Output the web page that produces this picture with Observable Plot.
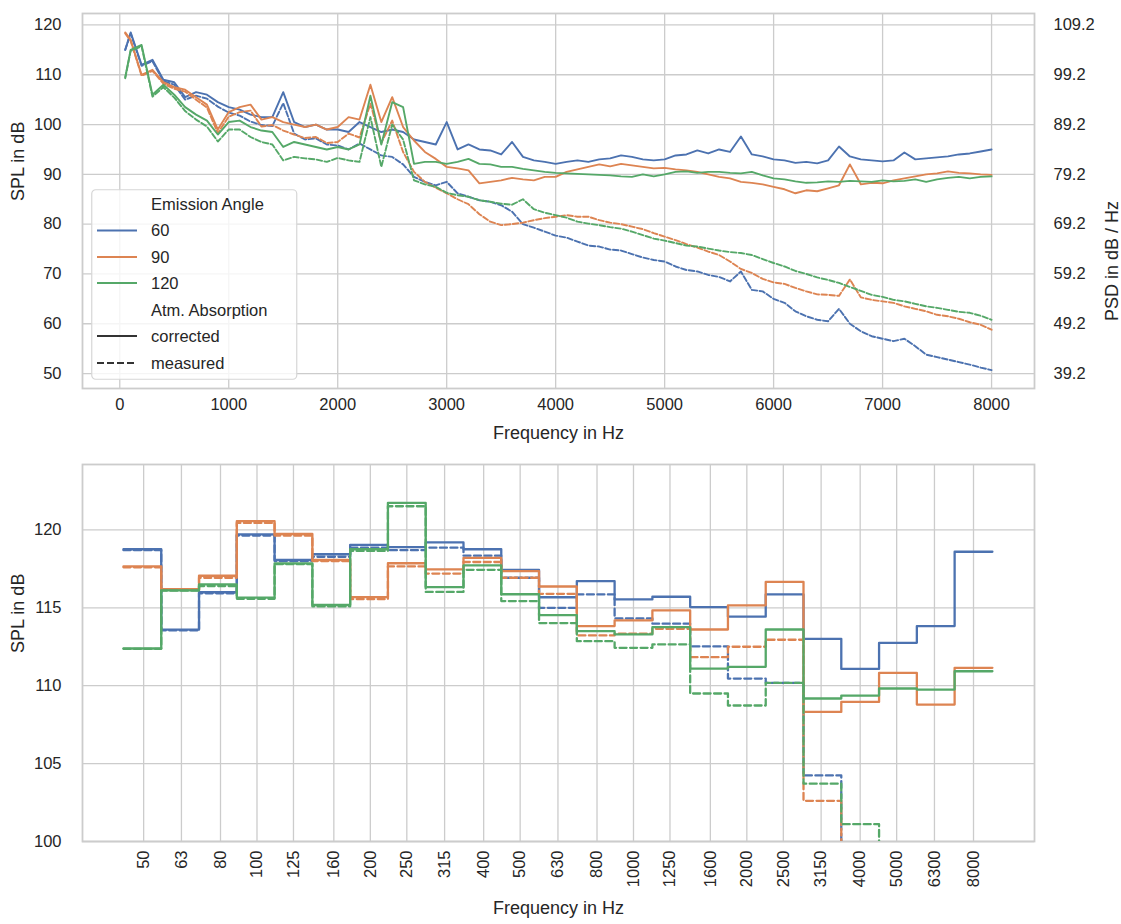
<!DOCTYPE html>
<html><head><meta charset="utf-8">
<script src="https://cdn.jsdelivr.net/npm/d3@7"></script>
<script src="https://cdn.jsdelivr.net/npm/@observablehq/plot@0.6"></script>
<style>
body{margin:0;background:#fff;font-family:"Liberation Sans",Arial,sans-serif;}
#wrap{position:relative;width:1121px;height:924px;overflow:hidden;}
#top,#bot,#legend{position:absolute;}
#top{left:0;top:0}
#bot{left:0;top:455px}
#legend{left:91px;top:189px}
</style></head>
<body><div id="wrap"><div id="top"></div><div id="bot"></div><div id="legend"></div></div>
<script>
// ---------- Top panel: narrow-band spectra ----------
const spectrumFreq = [50,
 100,200,300,400,500,600,700,800,900,1000,
 1100,1200,1300,1400,1500,1600,1700,1800,1900,2000,
 2100,2200,2300,2400,2500,2600,2700,2800,2900,3000,
 3100,3200,3300,3400,3500,3600,3700,3800,3900,4000,
 4100,4200,4300,4400,4500,4600,4700,4800,4900,5000,
 5100,5200,5300,5400,5500,5600,5700,5800,5900,6000,
 6100,6200,6300,6400,6500,6600,6700,6800,6900,7000,
 7100,7200,7300,7400,7500,7600,7700,7800,7900,8000];
const spl60corrected = [115,
 118.5,112,113,109,108.5,105.5,106.5,106,104.5,103.5,
 103,102,101.5,101.5,106.5,100.5,99.5,100,99,99,
 98.5,100.5,99.5,98.5,99,98.5,97,96.5,96,100.5,
 95,96,95,94.8,94,96.5,93.5,92.8,92.5,92.1,
 92.5,92.8,92.5,93,93.2,93.8,93.5,93,92.8,93,
 93.8,94,94.8,94.2,95,94.5,97.6,94,93.6,93,
 92.8,92.3,92.5,92.2,92.8,95.6,93.6,93,92.8,92.6,
 92.8,94.4,93,93.2,93.4,93.6,94,94.2,94.6,95];
const spl60measured = [115,
 118.3,111.8,112.7,108.7,108,105,105.8,105.2,103.6,102.4,
 101.8,100.6,99.9,99.7,104.3,98.2,97,97.2,96,95.8,
 95,96.2,95,93.8,93.5,92,89.5,88.5,87.8,88.5,
 86.2,85.5,84.8,84.5,83.8,82.5,80,79.3,78.5,77.7,
 77.3,76.5,75.7,75.5,74.9,74.7,74,73.3,72.8,72.5,
 71.5,70.8,70.5,69.8,69.4,68.5,70.5,66.8,66.5,65,
 64.2,62.5,61.5,60.8,60.5,63,60,58.5,57.5,57,
 56.5,57,55.5,53.8,53.3,52.8,52.3,51.8,51.2,50.7];
const spl90corrected = [118.5,
 117,110,111,108.5,107.5,107,105.5,104,99,102.5,
 103.5,104,101,101.5,100.5,100,99.5,100,99,99.5,
 101.5,101,108,100.5,105.5,99.5,96.8,94.5,93.1,91.5,
 91.2,90.8,88.2,88.5,88.8,89.3,89,88.8,89.5,89.5,
 90.5,91,91.5,92,91.6,92.1,91.8,91.5,91.2,91.3,
 91,90.8,90.5,90,89.5,89.2,88.5,88.3,88,87.5,
 87,86.2,86.8,86.6,87.2,87.8,92,88,88.3,88.2,
 88.8,89.2,89.6,90,90.2,90.6,90.3,90.2,90,89.9];
const spl90measured = [118.3,
 116.8,109.8,110.8,108.2,107.2,106.6,105,103.4,98.3,101.6,
 102.5,102.8,99.6,99.9,98.8,98,97.3,97.5,96.3,96.5,
 98.2,97.4,104.2,96.3,100.8,94.5,90.5,88.5,87.3,86.2,
 85,84,82,80.5,79.8,80,80.3,80.8,81.2,81.5,
 81.8,81.5,81.5,80.8,80.3,80,79.5,79,78.2,77.5,
 76.8,76,75.3,74.5,73.8,72.5,71,70.2,69,68.3,
 68,67.2,66.5,65.9,65.8,65.6,68.9,65.3,64.8,64.5,
 64.2,63.5,63,62.5,61.8,61.5,61,60.3,59.8,58.8];
const spl120corrected = [109.5,
 115,116,106,108,106,103.5,102,100.8,98,100.5,
 100.8,99.5,98.8,98.5,95.5,96.5,96,95.5,95,95.5,
 95,96,105.8,96,104.5,103.5,92.1,92.5,92.5,92.1,
 92.5,93.1,92.1,92,91.5,91.5,91.1,90.8,90.5,90.3,
 90.2,90.1,90,89.9,89.8,89.6,89.5,90,89.6,90,
 90.5,90.6,90.3,90.5,90.5,90.3,90.2,90.5,89.8,89.2,
 89,88.6,88.3,88.4,88.6,88.5,88.7,88.6,88.5,88.8,
 88.6,88.7,89,88.5,89,89.3,89.5,89.2,89.5,89.6];
const spl120measured = [109.3,
 114.8,115.7,105.6,107.5,105.4,102.7,101,99.6,96.6,99,
 99,97.5,96.5,96,92.8,93.5,93.2,93,92.5,93.3,
 92.8,92.5,101.5,91.5,100,97,88.8,88,87.5,86.3,
 85.8,85.5,84.8,84.5,84.1,83.9,85,83,82.3,81.8,
 81.3,80.5,80.1,79.8,79.4,79.1,78.5,77.8,77.1,76.7,
 76.2,75.7,75.5,75.1,74.7,74.4,74.2,73.8,73,72.2,
 71.5,70.6,70,69.3,68.8,68.2,67.4,66.6,65.8,65.4,
 64.8,64.5,64,63.5,63.2,62.8,62.4,62.2,61.6,60.8];
const topXTicks = [0,1000,2000,3000,4000,5000,6000,7000,8000];
const topYTicks = [50,60,70,80,90,100,110,120];
const psdOffset = 10.8; // PSD axis = SPL - 10.8

// ---------- Bottom panel: third-octave bands ----------
const bandLabels = ["50","63","80","100","125","160","200","250","315","400","500","630","800","1000","1250","1600","2000","2500","3150","4000","5000","6300","8000"];
const bandNominal = [50,63,80,100,125,160,200,250,315,400,500,630,800,1000,1250,1600,2000,2500,3150,4000,5000,6300,8000];
const band60corrected = [118.76,113.6,116.0,119.72,118.07,118.44,119.04,118.9,119.2,118.76,117.43,115.68,116.72,115.54,115.71,115.05,114.43,115.86,113.01,111.08,112.75,113.83,118.6];
const band60measured = [118.7,113.55,115.93,119.64,118.0,118.28,118.86,118.7,118.86,118.35,116.93,115.0,115.86,114.32,113.98,112.52,110.46,110.18,104.24,97.5,94,90,85];
const band90corrected = [117.66,116.2,117.06,120.56,119.74,118.07,115.69,117.86,117.47,118.2,117.36,116.37,113.83,114.19,114.83,113.61,115.16,116.66,108.32,108.96,110.82,108.79,111.15];
const band90measured = [117.6,116.15,116.93,120.45,119.64,118.0,115.56,117.66,117.2,117.94,116.93,115.9,113.23,113.34,113.65,111.83,112.5,112.95,102.61,97,93,89,83];
const band120corrected = [112.39,116.12,116.5,115.65,117.85,115.18,118.76,121.74,116.33,117.72,115.87,114.53,113.5,113.29,113.76,111.1,111.21,113.61,109.18,109.37,109.82,109.75,110.93];
const band120measured = [112.37,116.1,116.4,115.58,117.8,115.09,118.65,121.52,116.02,117.44,115.43,114.02,112.86,112.43,112.65,109.5,108.73,110.18,103.71,101.11,97,93,88];
const botYTicks = [100,105,110,115,120];

const colors = {"60":"#4c72b0","90":"#dd8452","120":"#55a868"};
const ink = "#262626", gridC = "#cccccc";
const font = "Liberation Sans, Arial, sans-serif";

const topSeries = [
  {a:"60", dash:false, v:spl60corrected},{a:"60", dash:true, v:spl60measured},
  {a:"90", dash:false, v:spl90corrected},{a:"90", dash:true, v:spl90measured},
  {a:"120", dash:false, v:spl120corrected},{a:"120", dash:true, v:spl120measured}
];
const topLines = topSeries.map(s => Plot.line(spectrumFreq.map((f,i)=>({f, v:s.v[i]})), {
  x:"f", y:"v", stroke: colors[s.a], strokeWidth:1.9,
  strokeDasharray: s.dash ? "5.5,2.4" : null, clip:true}));

const topPlot = Plot.plot({
  width:1121, height:455, marginLeft:82, marginRight:87, marginTop:13, marginBottom:67,
  style:{fontFamily:font, fontSize:"16.5px", color:ink, background:"transparent"},
  x:{domain:[-342,8394]},
  y:{domain:[47.0,122.3]},
  marks:[
    Plot.gridX(topXTicks, {stroke:gridC, strokeOpacity:1, strokeWidth:1.3}),
    Plot.gridY(topYTicks, {stroke:gridC, strokeOpacity:1, strokeWidth:1.3}),
    Plot.frame({stroke:gridC, strokeWidth:1.8}),
    ...topLines,
    Plot.axisX(topXTicks, {tickSize:0, tickPadding:10, label:null, tickFormat:d=>String(d)}),
    Plot.axisY(topYTicks, {anchor:"left", tickSize:0, tickPadding:21, label:null, tickFormat:d=>String(d)}),
    Plot.axisY(topYTicks, {anchor:"right", tickSize:0, tickPadding:19, label:null,
      tickFormat: d => (d - psdOffset).toFixed(1)}),
    Plot.text(["Frequency in Hz"], {frameAnchor:"bottom", dy:50, fontSize:18, fill:ink}),
    Plot.text(["SPL in dB"], {frameAnchor:"left", dx:-64, rotate:-90, fontSize:18, fill:ink}),
    Plot.text(["PSD in dB / Hz"], {frameAnchor:"right", dx:78, rotate:-90, fontSize:18, fill:ink})
  ]
});
document.getElementById("top").appendChild(topPlot);

// band edges (exact third-octave centres)
const centres = bandNominal.map((_,i) => 1000 * Math.pow(2, (i - 13) / 3));
const lo = centres.map(c => c * Math.pow(2, -1/6));
const hi = centres.map(c => c * Math.pow(2, 1/6));
function stairs(vals){
  const pts = vals.map((v,i)=>({x:lo[i], y:v}));
  pts.push({x:hi[hi.length-1], y:vals[vals.length-1]});
  return pts;
}
const botSeries = [
  {a:"60", dash:false, v:band60corrected},{a:"60", dash:true, v:band60measured},
  {a:"90", dash:false, v:band90corrected},{a:"90", dash:true, v:band90measured},
  {a:"120", dash:false, v:band120corrected},{a:"120", dash:true, v:band120measured}
];
const botLines = botSeries.map(s => Plot.line(stairs(s.v), {
  x:"x", y:"y", curve:"step-after", stroke: colors[s.a], strokeWidth:2.3,
  strokeDasharray: s.dash ? "7,3.5" : null, clip:true}));
const bandTicks = bandNominal.map((f,i)=>({f, label:bandLabels[i]}));

const botPlot = Plot.plot({
  width:1121, height:469, marginLeft:82, marginRight:87, marginTop:9, marginBottom:83,
  style:{fontFamily:font, fontSize:"16.5px", color:ink, background:"transparent"},
  x:{type:"log", domain:[34.4, 11616], axis:null},
  y:{domain:[100,124.2], axis:null},
  marks:[
    Plot.gridX(bandNominal, {stroke:gridC, strokeOpacity:1, strokeWidth:1.3}),
    Plot.gridY(botYTicks, {stroke:gridC, strokeOpacity:1, strokeWidth:1.3}),
    Plot.frame({stroke:gridC, strokeWidth:1.8}),
    ...botLines,
    Plot.text(bandTicks, {x:"f", text:"label", frameAnchor:"bottom", dy:9, rotate:-90,
      textAnchor:"end", lineAnchor:"middle", fontSize:16.5, fill:ink}),
    Plot.axisY(botYTicks, {anchor:"left", tickSize:0, tickPadding:21, label:null, tickFormat:d=>String(d)}),
    Plot.text(["Frequency in Hz"], {frameAnchor:"bottom", dy:72, fontSize:18, fill:ink}),
    Plot.text(["SPL in dB"], {frameAnchor:"left", dx:-64, rotate:-90, fontSize:18, fill:ink})
  ]
});
document.getElementById("bot").appendChild(botPlot);

// ---------- Legend ----------
const legendTitles = ["Emission Angle", "Atm. Absorption"];
const angleLabels = ["60","90","120"];
const styleLabels = ["corrected","measured"];
const lg = d3.select("#legend").append("svg").attr("width",208).attr("height",192)
  .style("font-family", font).style("font-size","16.5px");
lg.append("rect").attr("x",0.75).attr("y",0.75).attr("width",205).attr("height",189.5)
  .attr("rx",4).attr("fill","white").attr("fill-opacity",0.8).attr("stroke","#d6d6d6").attr("stroke-width",1.2);
const rows = [
  {t:legendTitles[0], y:15},
  {t:angleLabels[0], y:41.5, c:colors["60"]},
  {t:angleLabels[1], y:68, c:colors["90"]},
  {t:angleLabels[2], y:94, c:colors["120"]},
  {t:legendTitles[1], y:121.5},
  {t:styleLabels[0], y:147, c:"#333333"},
  {t:styleLabels[1], y:174, c:"#333333", dash:true}
];
rows.forEach(r => {
  if (r.c) lg.append("line").attr("x1",6).attr("x2",46).attr("y1",r.y).attr("y2",r.y)
    .attr("stroke",r.c).attr("stroke-width",2.2).attr("stroke-dasharray", r.dash ? "7,3" : null);
  lg.append("text").attr("x",60).attr("y",r.y).attr("dy","0.35em").attr("fill",ink).text(r.t);
});
</script>
</body></html>
